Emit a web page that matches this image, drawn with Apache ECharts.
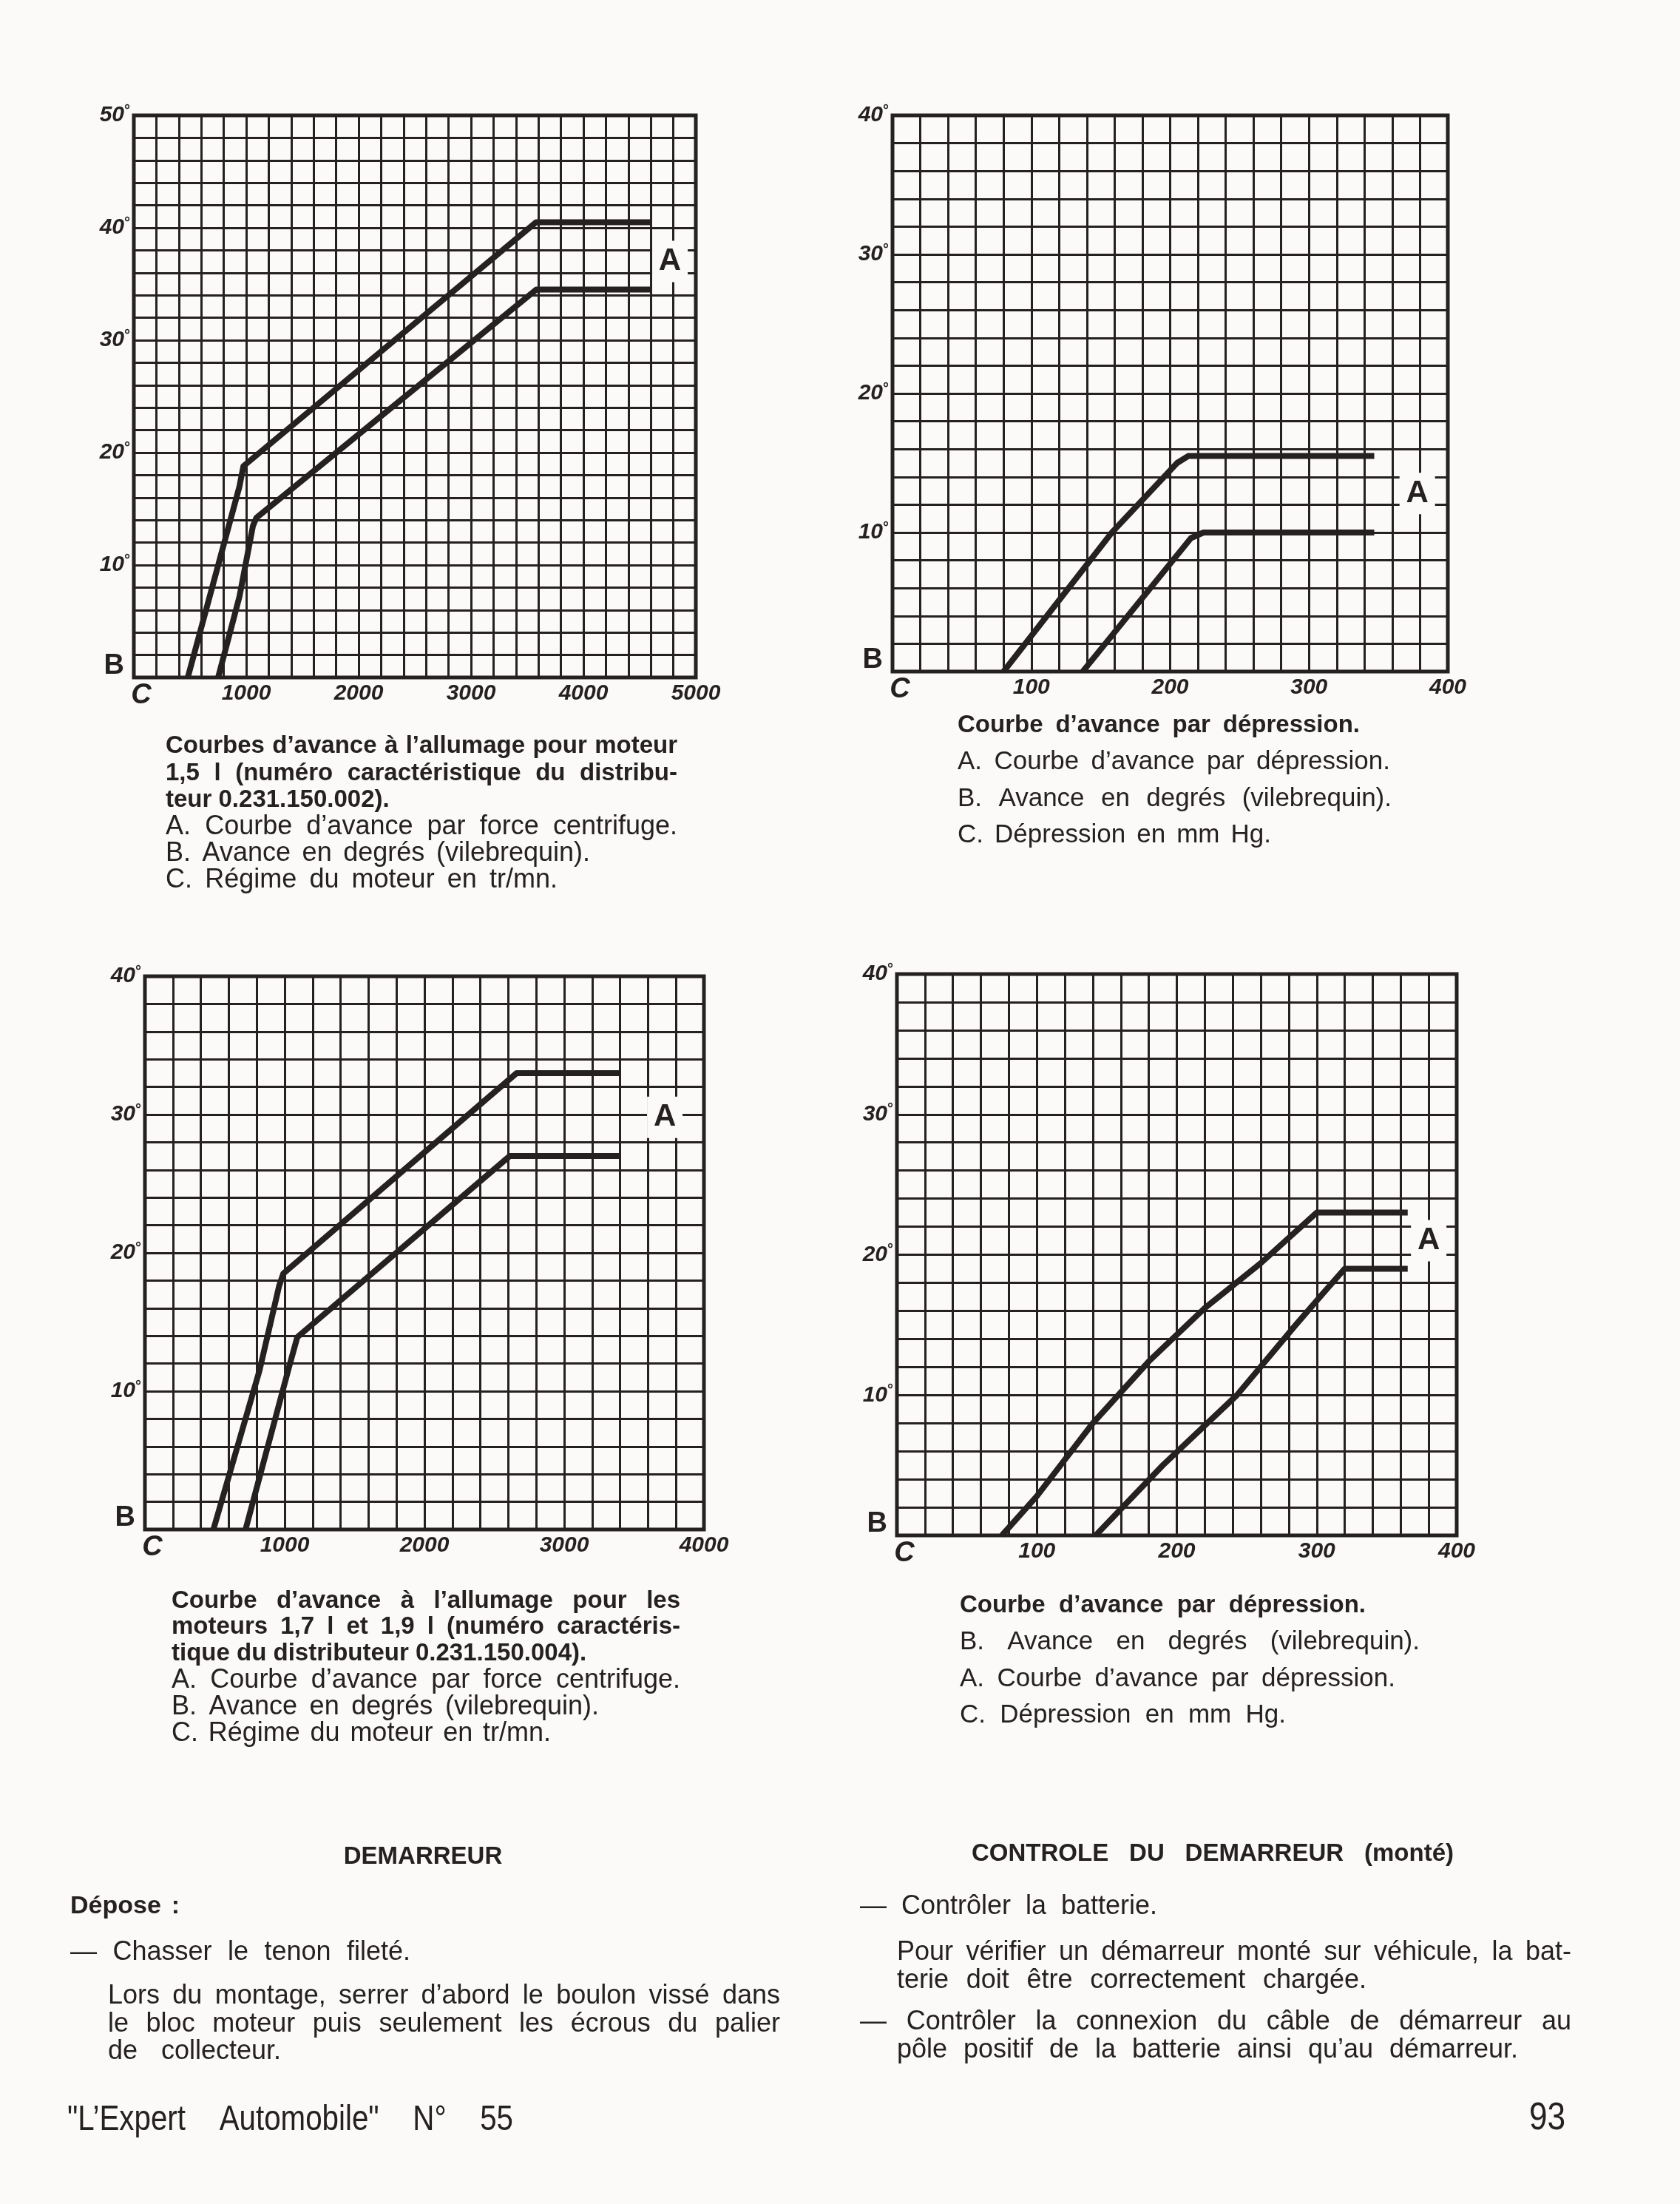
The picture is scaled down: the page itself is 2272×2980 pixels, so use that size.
<!DOCTYPE html>
<html>
<head>
<meta charset="utf-8">
<script src="https://cdn.jsdelivr.net/npm/echarts@6/dist/echarts.min.js"></script>
<style>
html,body{margin:0;padding:0;background:#fbfaf8;}
#page{width:2272px;height:2980px;}
</style>
</head>
<body>
<div id="page"></div>
<script>
// ---------------- DATA ----------------
// Chart 1 : centrifugal advance, 1,5 l engine  (x = rpm, y = degrees)
const c1UpperRpm = [480, 940, 975, 3580, 4600];
const c1UpperDeg = [0, 17, 18.8, 40.5, 40.5];
const c1LowerRpm = [750, 940, 1060, 1090, 3580, 4600];
const c1LowerDeg = [0, 7.2, 13.5, 14.2, 34.5, 34.5];
const c1XTickValues = [0, 1000, 2000, 3000, 4000, 5000];
const c1XTickLabels = ['C', '1000', '2000', '3000', '4000', '5000'];
const c1YTickValues = [0, 10, 20, 30, 40, 50];
const c1YTickLabels = ['B', '10°', '20°', '30°', '40°', '50°'];
const c1LabelA = [4770, 37];

// Chart 2 : vacuum advance (x = mm Hg, y = degrees)
const c2UpperHg = [80, 158, 205, 213, 347];
const c2UpperDeg = [0, 10, 15, 15.5, 15.5];
const c2LowerHg = [137, 215, 224, 347];
const c2LowerDeg = [0, 9.6, 10, 10];
const c2XTickValues = [0, 100, 200, 300, 400];
const c2XTickLabels = ['C', '100', '200', '300', '400'];
const c2YTickValues = [0, 10, 20, 30, 40];
const c2YTickLabels = ['B', '10°', '20°', '30°', '40°'];
const c2LabelA = [378, 12.8];

// Chart 3 : centrifugal advance, 1,7 l and 1,9 l engines (x = rpm, y = degrees)
const c3UpperRpm = [490, 820, 960, 990, 2660, 3400];
const c3UpperDeg = [0, 11.5, 17.6, 18.5, 33, 33];
const c3LowerRpm = [720, 1030, 1090, 2610, 3400];
const c3LowerDeg = [0, 11.7, 13.9, 27, 27];
const c3XTickValues = [0, 1000, 2000, 3000, 4000];
const c3XTickLabels = ['C', '1000', '2000', '3000', '4000'];
const c3YTickValues = [0, 10, 20, 30, 40];
const c3YTickLabels = ['B', '10°', '20°', '30°', '40°'];
const c3LabelA = [3720, 29.8];

// Chart 4 : vacuum advance (x = mm Hg, y = degrees)
const c4UpperHg = [75, 100, 140, 180, 220, 260, 300, 365];
const c4UpperDeg = [0, 2.8, 8, 12.4, 16.2, 19.4, 23, 23];
const c4LowerHg = [142, 190, 243, 285, 305, 320, 365];
const c4LowerDeg = [0, 5, 10, 15, 17.3, 19, 19];
const c4XTickValues = [0, 100, 200, 300, 400];
const c4XTickLabels = ['C', '100', '200', '300', '400'];
const c4YTickValues = [0, 10, 20, 30, 40];
const c4YTickLabels = ['B', '10°', '20°', '30°', '40°'];
const c4LabelA = [380, 21];

// ---------------- TEXT ----------------
const caption1 = [
  'Courbes d’avance à l’allumage pour moteur',
  '1,5 l (numéro caractéristique du distribu-',
  'teur 0.231.150.002).',
  'A. Courbe d’avance par force centrifuge.',
  'B. Avance en degrés (vilebrequin).',
  'C. Régime du moteur en tr/mn.'
];
const caption2 = [
  'Courbe d’avance par dépression.',
  'A. Courbe d’avance par dépression.',
  'B. Avance en degrés (vilebrequin).',
  'C. Dépression en mm Hg.'
];
const caption3 = [
  'Courbe d’avance à l’allumage pour les',
  'moteurs 1,7 l et 1,9 l (numéro caractéris-',
  'tique du distributeur 0.231.150.004).',
  'A. Courbe d’avance par force centrifuge.',
  'B. Avance en degrés (vilebrequin).',
  'C. Régime du moteur en tr/mn.'
];
const caption4 = [
  'Courbe d’avance par dépression.',
  'B. Avance en degrés (vilebrequin).',
  'A. Courbe d’avance par dépression.',
  'C. Dépression en mm Hg.'
];
const leftHeading = 'DEMARREUR';
const leftSub = 'Dépose :';
const leftItem = '— Chasser le tenon fileté.';
const leftPara = [
  'Lors du montage, serrer d’abord le boulon vissé dans',
  'le bloc moteur puis seulement les écrous du palier',
  'de collecteur.'
];
const rightHeading = 'CONTROLE DU DEMARREUR (monté)';
const rightItem1 = '— Contrôler la batterie.';
const rightPara = [
  'Pour vérifier un démarreur monté sur véhicule, la bat-',
  'terie doit être correctement chargée.'
];
const rightItem2 = [
  '— Contrôler la connexion du câble de démarreur au',
  'pôle positif de la batterie ainsi qu’au démarreur.'
];
const footerLeft = '"L’Expert Automobile" N° 55';
const footerRight = '93';

// ---------------- STYLE / LAYOUT ----------------
const FONT = '"Liberation Sans", Arial, Helvetica, sans-serif';
const INK = '#252120';
const PAPER = '#fbfaf8';

const mctx = document.createElement('canvas').getContext('2d');
function fontStr(o) {
  return (o.italic ? 'italic ' : '') + (o.bold ? 'bold ' : '') + o.size + 'px ' + FONT;
}
function measure(str, o) {
  mctx.font = fontStr(o);
  return mctx.measureText(str).width * (o.scaleX || 1);
}
function txt(str, x, y, o) {
  return {
    type: 'text', x: x, y: y, silent: true,
    scaleX: o.scaleX || 1, scaleY: 1,
    style: {
      text: str, font: fontStr(o), fill: INK,
      textAlign: 'left', align: 'left',
      textVerticalAlign: 'middle', verticalAlign: 'middle'
    }
  };
}
// one line, optionally justified to a given width
function line(str, x, y, o, width) {
  if (!width) return [txt(str, x, y, o)];
  const words = str.split(' ');
  const ws = words.map(w => measure(w, o));
  const sum = ws.reduce((a, b) => a + b, 0);
  const gap = words.length > 1 ? Math.max(9, (width - sum) / (words.length - 1)) : 0;
  const out = [];
  let cx = x;
  words.forEach((w, i) => { out.push(txt(w, cx, y, o)); cx += ws[i] + gap; });
  return out;
}
function block(lines, x, ys, widths, bolds, sizeBold, sizeReg) {
  let out = [];
  lines.forEach((s, i) => {
    out = out.concat(line(s, x, ys[i], { size: bolds[i] ? sizeBold : sizeReg, bold: bolds[i] }, widths[i]));
  });
  return out;
}

const graphics = [].concat(
  block(caption1, 224, [1009, 1046, 1082, 1118, 1154, 1190],
        [692, 692, null, 692, 574, 530], [true, true, true, false, false, false], 33, 36),
  block(caption2, 1295, [981, 1030, 1080, 1129],
        [544, 585, 587, 424], [true, false, false, false], 33, 35),
  block(caption3, 232, [2165, 2200, 2236, 2272, 2308, 2344],
        [688, 688, null, 688, 578, 513], [true, true, true, false, false, false], 33, 36),
  block(caption4, 1298, [2171, 2220, 2270, 2319],
        [549, 622, 589, 441], [true, false, false, false], 33, 35),
  line(leftHeading, 572 - measure(leftHeading, { size: 33, bold: true }) / 2, 2511, { size: 33, bold: true }),
  line(leftSub, 95, 2578, { size: 34, bold: true }, 148),
  line(leftItem, 95, 2640, { size: 36 }, 460),
  block(leftPara, 146, [2699, 2737, 2774], [909, 909, 234], [false, false, false], 36, 36),
  line(rightHeading, 1314, 2507, { size: 33, bold: true }, 652),
  line(rightItem1, 1163, 2578, { size: 36 }, 402),
  block(rightPara, 1213, [2640, 2678], [912, 635], [false, false], 36, 36),
  line(rightItem2[0], 1163, 2734, { size: 36 }, 962),
  line(rightItem2[1], 1213, 2772, { size: 36 }, 840),
  line(footerLeft, 91, 2867, { size: 48, scaleX: 0.84 }, 603),
  line(footerRight, 2068, 2865, { size: 52, scaleX: 0.85 })
);

// ---------------- AXES ----------------
const rich = {
  n: { fontFamily: FONT, fontSize: 30, fontWeight: 'bold', fontStyle: 'italic', color: INK, lineHeight: 34 },
  d: { fontFamily: FONT, fontSize: 20, fontWeight: 'bold', color: INK, lineHeight: 18, verticalAlign: 'top' },
  b: { fontFamily: FONT, fontSize: 38, fontWeight: 'bold', color: INK, lineHeight: 40, padding: [0, 8, 30, 0] },
  c: { fontFamily: FONT, fontSize: 38, fontWeight: 'bold', fontStyle: 'italic', color: INK, lineHeight: 40, padding: [0, 0, 0, 20] }
};
function fmt(values, labels) {
  return function (v) {
    const i = values.indexOf(Math.round(v * 1000) / 1000);
    if (i < 0) return '';
    const s = labels[i];
    if (s === 'B') return '{b|B}';
    if (s === 'C') return '{c|C}';
    if (s.endsWith('°')) return '{n|' + s.slice(0, -1) + '}{d|°}';
    return '{n|' + s + '}';
  };
}
function xAx(g, max, interval, values, labels) {
  return {
    gridIndex: g, type: 'value', min: 0, max: max, interval: interval,
    axisLine: { show: false }, axisTick: { show: false },
    splitLine: { show: true, lineStyle: { color: INK, width: 3 } },
    axisLabel: { show: true, margin: 5, showMinLabel: true, showMaxLabel: true,
                 formatter: fmt(values, labels), rich: rich }
  };
}
function yAx(g, max, interval, values, labels) {
  return {
    gridIndex: g, type: 'value', min: 0, max: max, interval: interval,
    axisLine: { show: false }, axisTick: { show: false },
    splitLine: { show: true, lineStyle: { color: INK, width: 3 } },
    axisLabel: { show: true, margin: 5, showMinLabel: true, showMaxLabel: true,
                 formatter: fmt(values, labels), rich: rich }
  };
}
function curve(idx, xs, ys) {
  return {
    type: 'line', xAxisIndex: idx, yAxisIndex: idx, symbol: 'none', z: 4,
    data: xs.map((x, i) => [x, ys[i]]),
    lineStyle: { color: INK, width: 8, join: 'round', cap: 'butt' },
    silent: true
  };
}
function labelA(idx, pos) {
  return {
    type: 'scatter', xAxisIndex: idx, yAxisIndex: idx, z: 5, silent: true,
    symbol: 'rect', symbolSize: [48, 56],
    itemStyle: { color: PAPER, opacity: 1 },
    label: { show: true, position: 'inside', formatter: 'A', fontFamily: FONT,
             fontSize: 42, fontWeight: 'bold', color: INK, textBorderWidth: 0 },
    data: [pos]
  };
}
const gridBase = { show: true, borderColor: INK, borderWidth: 5, backgroundColor: 'transparent', containLabel: false };

const option = {
  animation: false,
  backgroundColor: PAPER,
  grid: [
    Object.assign({ left: 181, top: 156, width: 760, height: 760 }, gridBase),
    Object.assign({ left: 1207, top: 156, width: 751, height: 752 }, gridBase),
    Object.assign({ left: 196, top: 1320, width: 756, height: 748 }, gridBase),
    Object.assign({ left: 1213, top: 1317, width: 757, height: 759 }, gridBase)
  ],
  xAxis: [
    xAx(0, 5000, 200, c1XTickValues, c1XTickLabels),
    xAx(1, 400, 20, c2XTickValues, c2XTickLabels),
    xAx(2, 4000, 200, c3XTickValues, c3XTickLabels),
    xAx(3, 400, 20, c4XTickValues, c4XTickLabels)
  ],
  yAxis: [
    yAx(0, 50, 2, c1YTickValues, c1YTickLabels),
    yAx(1, 40, 2, c2YTickValues, c2YTickLabels),
    yAx(2, 40, 2, c3YTickValues, c3YTickLabels),
    yAx(3, 40, 2, c4YTickValues, c4YTickLabels)
  ],
  series: [
    curve(0, c1UpperRpm, c1UpperDeg), curve(0, c1LowerRpm, c1LowerDeg), labelA(0, c1LabelA),
    curve(1, c2UpperHg, c2UpperDeg), curve(1, c2LowerHg, c2LowerDeg), labelA(1, c2LabelA),
    curve(2, c3UpperRpm, c3UpperDeg), curve(2, c3LowerRpm, c3LowerDeg), labelA(2, c3LabelA),
    curve(3, c4UpperHg, c4UpperDeg), curve(3, c4LowerHg, c4LowerDeg), labelA(3, c4LabelA)
  ],
  graphic: { elements: graphics }
};

const chart = echarts.init(document.getElementById('page'), null, { renderer: 'canvas' });
chart.setOption(option);
</script>
</body>
</html>
